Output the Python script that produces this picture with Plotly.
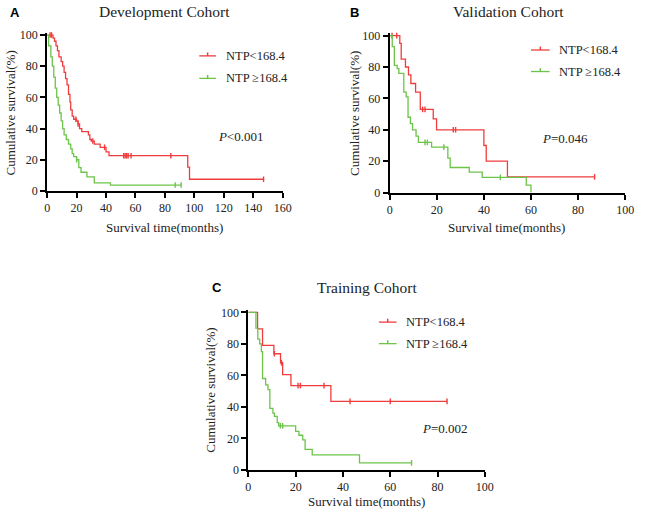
import numpy as np
import plotly.graph_objects as go

# ---------------- data ----------------
# Panel A: Development Cohort
A_red_t = [0, 4, 5, 6, 7, 8, 9.5, 10.5, 11.5, 12.5, 13.5, 14.5, 15.5, 16, 17, 18, 20, 21, 22, 23.5, 28, 29, 30, 32, 36, 40, 42, 95.5, 96.7, 147]
A_red_s = [100, 98, 96, 93, 90, 86, 83, 80, 76, 72, 68, 62, 57, 52, 48, 46, 45, 43, 40, 38, 36, 33, 32, 30, 28, 25, 22.6, 15.3, 7.5, 7.5]
A_red_cens = [2, 3, 19.5, 21, 31, 39, 52, 53, 54, 55, 57, 84, 147]
A_green_t = [0, 1, 2.5, 3.5, 4.5, 5.5, 6.5, 7.5, 8.5, 9.5, 10.5, 11.5, 13, 14.5, 16, 17, 18, 20, 21.5, 23, 27, 32, 43, 91]
A_green_s = [100, 93, 86, 80, 73, 66, 60, 55, 50, 45, 40, 36, 33, 30, 27, 24, 22, 20, 15, 12, 9, 5.2, 3.8, 3.8]
A_green_cens = [20, 87, 91]

# Panel B: Validation Cohort
B_red_t = [0, 4.3, 4.9, 6.7, 8, 9, 11, 13, 18.5, 19.9, 40, 41, 50, 87]
B_red_s = [100, 95, 85, 80, 75, 69.5, 64, 53, 47, 40, 30, 20, 10, 10]
B_red_cens = [1, 3, 14, 15, 27, 28, 87]
B_green_t = [0, 1.1, 2, 3.2, 3.9, 6, 7, 7.8, 8.8, 9.7, 11.2, 12.2, 17.8, 24.7, 25.7, 33.8, 39.3, 58, 60]
B_green_s = [100, 93, 81, 79, 76, 64, 61, 48, 44, 40, 36, 32, 29, 22, 16, 13, 9.7, 4.8, 0]
B_green_cens = [15, 16, 23, 47]

# Panel C: Training Cohort
C_red_t = [0, 3.9, 6, 10.8, 13.6, 14.5, 18, 34.9, 84]
C_red_s = [100, 89.5, 79, 73.7, 68, 60.5, 53.5, 43.5, 43.5]
C_red_cens = [11, 14, 21, 22, 32, 43, 60, 84]
C_green_t = [0, 3.2, 4, 4.8, 5.5, 6, 7.3, 8.3, 9.1, 10.4, 11, 12.2, 12.8, 20, 21.4, 23, 24, 27, 47, 69]
C_green_s = [100, 90, 83, 80, 75, 58, 54, 51, 39, 36, 34, 30, 28, 24.5, 22, 19, 13, 9.5, 4.5, 4.5]
C_green_cens = [13.5, 14.5, 69]

x_ticks_A = [0, 20, 40, 60, 80, 100, 120, 140, 160]
x_ticks_BC = [0, 20, 40, 60, 80, 100]
y_ticks = [0, 20, 40, 60, 80, 100]

group_names = ["NTP&lt;168.4", "NTP ≥168.4"]
titles = ["Development Cohort", "Validation Cohort", "Training Cohort"]
panel_letters = ["A", "B", "C"]
p_values = ["<i>P</i>&lt;0.001", "<i>P</i>=0.046", "<i>P</i>=0.002"]

RED = "#f03c3c"
GREEN = "#6cc44a"
W, H = 645, 519
SERIF = "Liberation Serif"


def surv_at(t, s, c):
    t = np.asarray(t)
    idx = np.searchsorted(t, np.asarray(c), side="right") - 1
    return np.asarray(s)[idx]


fig = go.Figure()

panels = [
    dict(ax="", red=(A_red_t, A_red_s, A_red_cens), green=(A_green_t, A_green_s, A_green_cens),
         xr=[0, 160], xt=x_ticks_A, px=(45, 285), py0=191, py100=31.7),
    dict(ax="2", red=(B_red_t, B_red_s, B_red_cens), green=(B_green_t, B_green_s, B_green_cens),
         xr=[0, 100], xt=x_ticks_BC, px=(394, 634), py0=192.7, py100=32.3),
    dict(ax="3", red=(C_red_t, C_red_s, C_red_cens), green=(C_green_t, C_green_s, C_green_cens),
         xr=[0, 100], xt=x_ticks_BC, px=(250, 491), py0=476, py100=315),
]

YTOP = 101.5
for p in panels:
    xa = "x" + p["ax"]
    ya = "y" + p["ax"]
    for key, col in (("red", RED), ("green", GREEN)):
        t, s, c = p[key]
        fig.add_trace(go.Scatter(x=t, y=s, mode="lines", line=dict(color=col, width=1.3, shape="hv"),
                                 xaxis=xa, yaxis=ya, showlegend=False, hoverinfo="skip"))
        fig.add_trace(go.Scatter(x=c, y=surv_at(t, s, c), mode="markers",
                                 marker=dict(symbol="line-ns", size=4, line=dict(color=col, width=1.4)),
                                 xaxis=xa, yaxis=ya, showlegend=False, cliponaxis=False, hoverinfo="skip"))
    unit = (p["py0"] - p["py100"]) / 100.0
    ytop_px = p["py0"] - YTOP * unit
    axis_common = dict(showline=True, linecolor="black", linewidth=2, ticks="outside", ticklen=5,
                       tickwidth=1.5, tickcolor="black", showgrid=False, zeroline=False,
                       tickfont=dict(family=SERIF, size=12, color="#222"), fixedrange=True)
    fig.layout["xaxis" + p["ax"]] = dict(domain=[p["px"][0] / W, p["px"][1] / W], range=p["xr"],
                                         tickvals=p["xt"], anchor=ya, **axis_common)
    fig.layout["yaxis" + p["ax"]] = dict(domain=[1 - p["py0"] / H, 1 - ytop_px / H], range=[0, YTOP],
                                         tickvals=y_ticks, anchor=xa, **axis_common)

annotations = []
shapes = []


def txt(x, y, text, size, xanchor="center", family=SERIF, angle=0, color="#222"):
    annotations.append(dict(x=x / W, y=1 - y / H, xref="paper", yref="paper", text=text, showarrow=False,
                            xanchor=xanchor, yanchor="middle", textangle=angle,
                            font=dict(family=family, size=size, color=color)))


# titles and panel letters
txt(165, 8, titles[0], 15.5)
txt(515, 8, titles[1], 15.5)
txt(371, 290, titles[2], 15.5)
txt(5, 9, "<b>A</b>", 13, xanchor="left", family="Liberation Sans", color="black")
txt(352, 9, "<b>B</b>", 13, xanchor="left", family="Liberation Sans", color="black")
txt(211, 290, "<b>C</b>", 13, xanchor="left", family="Liberation Sans", color="black")

# axis titles
txt(165, 228, "Survival time(months)", 13)
txt(513, 228, "Survival time(months)", 13)
txt(370, 508, "Survival time(months)", 13)
txt(8, 111, "Cumulative survival(%)", 13, angle=-90)
txt(358, 112, "Cumulative survival(%)", 13, angle=-90)
txt(212, 395, "Cumulative survival(%)", 13, angle=-90)

# p values
txt(217, 135, p_values[0], 13, xanchor="left")
txt(547, 137, p_values[1], 13, xanchor="left")
txt(425, 434, p_values[2], 13, xanchor="left")

# legends
legend_pos = [(200, 217, 53, 76), (538, 557, 47, 69), (383, 401, 325, 347)]
for (x0, x1, yr, yg) in legend_pos:
    for yy, col, name in ((yr, RED, group_names[0]), (yg, GREEN, group_names[1])):
        shapes.append(dict(type="line", xref="paper", yref="paper", x0=x0 / W, x1=x1 / W,
                           y0=1 - yy / H, y1=1 - yy / H, line=dict(color=col, width=1.3)))
        xm = (x0 + x1) / 2
        shapes.append(dict(type="line", xref="paper", yref="paper", x0=xm / W, x1=xm / W,
                           y0=1 - yy / H, y1=1 - (yy - 3.5) / H, line=dict(color=col, width=1.5)))
        txt(x1 + 8, yy, name, 12.5, xanchor="left")

fig.update_layout(width=W, height=H, margin=dict(l=0, r=0, t=0, b=0), paper_bgcolor="white",
                  plot_bgcolor="white", annotations=annotations, shapes=shapes, showlegend=False)

fig.write_html("out.html", config={"displayModeBar": False},
               post_script="document.body.style.margin='0';document.body.style.padding='0';"
                           "document.body.style.overflow='hidden';")
